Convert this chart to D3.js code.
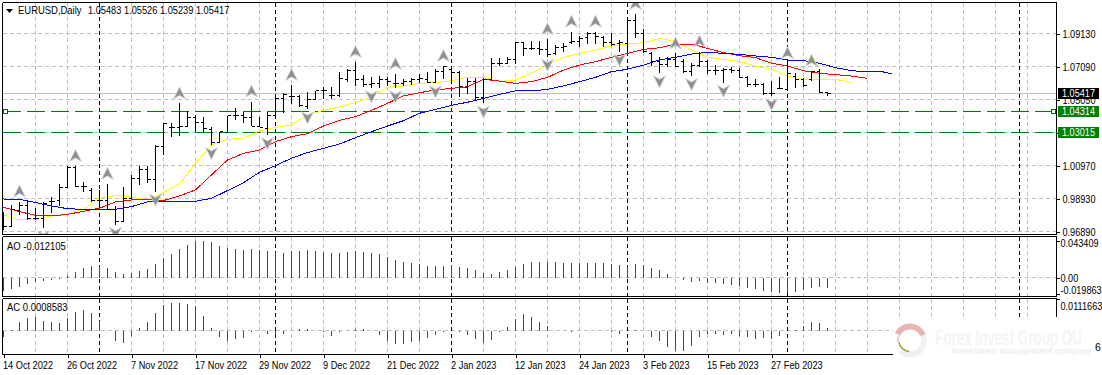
<!DOCTYPE html>
<html><head><meta charset="utf-8">
<script src="https://cdn.jsdelivr.net/npm/d3@7/dist/d3.min.js"></script>
<style>
html,body{margin:0;padding:0;background:#fff;overflow:hidden}
svg{display:block}
text{font-family:"Liberation Sans",Arial,sans-serif;font-size:10.5px;fill:#000}
</style></head><body><svg id="c" width="1102" height="375"></svg>
<script>
const symbolTitle="EURUSD,Daily";
const headerValues=["1.05483","1.05526","1.05239","1.05417"];
const opens=[.9730,.9719,.9818,.9847,.9771,.9771,.9874,.9878,.9960,1.0084,.9966,.9942,.9878,.9878,.9822,.9750,.9894,1.0018,1.0074,1.0012,1.0214,1.0333,1.0333,1.0341,1.0395,1.0362,1.0321,1.0238,1.0300,1.0403,1.0403,1.0395,1.0341,1.0327,1.0403,1.0512,1.0523,1.0523,1.0461,1.0506,1.0560,1.0529,1.0527,1.0626,1.0683,1.0626,1.0595,1.0601,1.0626,1.0605,1.0601,1.0615,1.0630,1.0626,1.0609,1.0677,1.0692,1.0671,1.0580,1.0615,1.0518,1.0630,1.0729,1.0729,1.0753,1.0856,1.0821,1.0821,1.0815,1.0790,1.0827,1.0856,1.0863,1.0889,1.0914,1.0889,1.0856,1.0852,1.0852,1.0992,1.0914,1.0790,1.0739,1.0724,1.0753,1.0739,1.0677,1.0718,1.0739,1.0687,1.0683,1.0692,1.0683,1.0642,1.0599,1.0595,1.0543,1.0574,1.0568,1.0650,1.0626,1.0626,1.0677,1.05483];
const highs=[.9812,.9853,.9874,.9884,.9833,.9874,.9900,.9983,1.0094,1.0094,.9997,.9956,.9946,.9983,.9847,.9966,1.0039,1.0094,1.0094,1.0224,1.0362,1.0358,1.0481,1.0436,1.0409,1.0399,1.0337,1.0306,1.0403,1.0451,1.0430,1.0492,1.0395,1.0430,1.0539,1.0543,1.0595,1.0533,1.0554,1.0560,1.0580,1.0580,1.0677,1.0692,1.0737,1.0657,1.0642,1.0650,1.0642,1.0663,1.0630,1.0636,1.0663,1.0677,1.0692,1.0712,1.0698,1.0683,1.0636,1.0636,1.0636,1.0760,1.0760,1.0770,1.0863,1.0863,1.0869,1.0869,1.0877,1.0842,1.0856,1.0924,1.0898,1.0924,1.0924,1.0898,1.0914,1.0873,1.0996,1.1033,1.0939,1.0801,1.0766,1.0766,1.0790,1.0753,1.0733,1.0801,1.0749,1.0718,1.0698,1.0708,1.0698,1.0650,1.0630,1.0609,1.0619,1.0642,1.0729,1.0671,1.0636,1.0683,1.0692,1.05526];
const lows=[.9699,.9719,.9791,.9760,.9760,.9709,.9806,.9847,.9956,.9966,.9936,.9874,.9843,.9822,.9730,.9750,.9894,.9977,.9987,.9936,1.0162,1.0271,1.0282,1.0333,1.0306,1.0306,1.0224,1.0238,1.0300,1.0378,1.0362,1.0341,1.0333,1.0286,1.0389,1.0424,1.0477,1.0461,1.0444,1.0502,1.0506,1.0506,1.0523,1.0615,1.0589,1.0584,1.0574,1.0574,1.0589,1.0574,1.0589,1.0595,1.0605,1.0605,1.0605,1.0630,1.0605,1.0518,1.0539,1.0502,1.0481,1.0626,1.0712,1.0724,1.0724,1.0774,1.0811,1.0780,1.0770,1.0780,1.0801,1.0848,1.0832,1.0848,1.0848,1.0832,1.0836,1.0801,1.0801,1.0883,1.0790,1.0712,1.0667,1.0708,1.0708,1.0667,1.0650,1.0708,1.0663,1.0657,1.0609,1.0667,1.0636,1.0584,1.0580,1.0533,1.0527,1.0568,1.0560,1.0574,1.0584,1.0621,1.0543,1.05239];
const closes=[.9719,.9826,.9847,.9771,.9771,.9863,.9874,.9960,1.0084,.9966,.9966,.9878,.9878,.9826,.9750,.9894,1.0018,1.0074,1.0012,1.0214,1.0354,1.0333,1.0341,1.0395,1.0362,1.0327,1.0238,1.0306,1.0403,1.0403,1.0395,1.0341,1.0333,1.0409,1.0512,1.0537,1.0523,1.0467,1.0506,1.0560,1.0560,1.0529,1.0632,1.0683,1.0626,1.0595,1.0605,1.0630,1.0615,1.0605,1.0615,1.0630,1.0636,1.0609,1.0677,1.0708,1.0671,1.0584,1.0615,1.0518,1.0630,1.0729,1.0729,1.0753,1.0856,1.0821,1.0821,1.0815,1.0786,1.0827,1.0832,1.0863,1.0883,1.0914,1.0893,1.0856,1.0848,1.0856,1.0992,1.0914,1.0801,1.0739,1.0724,1.0753,1.0712,1.0677,1.0718,1.0739,1.0687,1.0683,1.0692,1.0683,1.0642,1.0599,1.0595,1.0543,1.0543,1.0574,1.0667,1.0630,1.0589,1.0677,1.0547,1.05417];
// moving averages read every second bar
const blueLine=[.9890,.9888,.9868,.9847,.9830,.9826,.9826,.9826,.9843,.9872,.9876,.9872,.9876,.9894,.9942,.9991,1.0055,1.0096,1.0142,1.0177,1.0203,1.0230,1.0269,1.0306,1.0341,1.0374,1.0420,1.0444,1.0469,1.0488,1.0512,1.0537,1.0558,1.0558,1.0568,1.0589,1.0615,1.0642,1.0677,1.0692,1.0718,1.0749,1.0766,1.0786,1.0797,1.0790,1.0784,1.0774,1.0766,1.0749,1.0745,1.0729,1.0702,1.0683,1.0677,1.0675,1.0663];
const redLine=[.9839,.9812,.9789,.9785,.9795,.9814,.9833,.9872,.9884,.9888,.9880,.9909,.9946,1.0039,1.0131,1.0172,1.0193,1.0245,1.0275,1.0294,1.0341,1.0376,1.0399,1.0438,1.0481,1.0527,1.0547,1.0564,1.0574,1.0584,1.0630,1.0619,1.0605,1.0615,1.0642,1.0687,1.0718,1.0739,1.0766,1.0790,1.0815,1.0825,1.0848,1.0848,1.0821,1.0795,1.0776,1.0764,1.0729,1.0712,1.0683,1.0667,1.0659,1.0650,1.0636];
const yellowLine=[.9791,.9760,.9765,.9785,.9797,.9826,.9894,.9913,.9900,.9884,.9929,.9983,1.0111,1.0224,1.0259,1.0265,1.0310,1.0333,1.0348,1.0409,1.0438,1.0459,1.0486,1.0523,1.0580,1.0589,1.0605,1.0609,1.0621,1.0642,1.0642,1.0615,1.0626,1.0667,1.0718,1.0766,1.0790,1.0811,1.0836,1.0848,1.0856,1.0883,1.0863,1.0811,1.0766,1.0753,1.0739,1.0712,1.0692,1.0650,1.0630,1.0626,1.0630,1.0609];
const aoValues=[-.0160,-.0140,-.0112,-.0080,-.0056,-.0040,-.0024,-.0016,.0016,.0064,.0112,.0136,.0144,.0112,.0064,.0040,.0052,.0076,.0104,.0160,.0232,.0280,.0340,.0388,.0436,.0440,.0424,.0376,.0352,.0348,.0336,.0340,.0336,.0316,.0304,.0300,.0316,.0320,.0328,.0316,.0304,.0292,.0296,.0304,.0316,.0304,.0300,.0280,.0244,.0208,.0184,.0172,.0160,.0140,.0136,.0140,.0148,.0128,.0116,.0092,.0056,.0044,.0068,.0092,.0128,.0164,.0184,.0188,.0192,.0188,.0180,.0176,.0172,.0176,.0180,.0176,.0164,.0152,.0144,.0164,.0152,.0116,.0092,.0044,0,-.0032,-.0056,-.0040,-.0064,-.0068,-.0080,-.0084,-.0104,-.0128,-.0140,-.0164,-.0176,-.0188,-.0186,-.0176,-.0152,-.0128,-.0116,-.012105];
const acValues=[-.0024,.0001,.0030,.0044,.0049,.0034,.0030,.0026,.0044,.0066,.0073,.0062,.0036,0,-.0037,-.0044,-.0020,.0008,.0030,.0062,.0091,.0098,.0099,.0095,.0088,.0052,.0008,-.0023,-.0037,-.0030,-.0026,-.0004,-.0002,-.0012,-.0017,-.0012,0,.0004,.0006,0,-.0005,-.0019,-.0007,-.0001,.0007,.0004,0,-.0016,-.0037,-.0048,-.0047,-.0041,-.0036,-.0026,-.0017,-.0006,0,-.0004,-.0016,-.0030,-.0046,-.0034,-.0004,.0014,.0041,.0059,.0048,.0030,.0016,-.0001,-.0002,-.0004,-.0002,-.0001,-.00005,-.0001,-.0004,-.0012,-.0001,.0001,0,-.0023,-.0037,-.0060,-.0074,-.0073,-.0055,-.0023,-.0012,-.0011,-.0016,-.0012,-.0019,-.0023,-.0030,-.0026,-.0030,-.0019,-.0001,.0001,.0016,.0030,.0026,.0008583];
const fractalUp=[2,9,13,22,31,36,44,49,55,68,71,74,79,84,87,98,101];
const fractalDown=[5,14,19,26,33,38,46,49,54,60,68,77,82,86,90,96];
const separators=[12,34,56,78,98,127];
const dateLabels=["14 Oct 2022","26 Oct 2022","7 Nov 2022","17 Nov 2022","29 Nov 2022","9 Dec 2022","21 Dec 2022","2 Jan 2023","12 Jan 2023","24 Jan 2023","3 Feb 2023","15 Feb 2023","27 Feb 2023"];
const priceTicks=[1.0913,1.0709,1.0505,1.0301,1.0097,.9893,.9689];
const bidPrice=1.05417, hLine1=1.04314, hLine2=1.03015;

const W=1056.5,L=2.5;
const svg=d3.select("#c");
const x=d3.scaleLinear().domain([0,1]).range([3.5,11.5]);
const y=d3.scaleLinear().domain([.9689,1.0913]).range([231.5,33.5]);
const yAO=d3.scaleLinear().domain([0,.0432]).range([277.5,241.5]);
const yAC=d3.scaleLinear().domain([0,.0108]).range([330.5,300.5]);
const GRID="#c0c0c0";
const FS="10.5px";
const squeeze=(sel,f)=>sel.each(function(){const n=this.getComputedTextLength();this.setAttribute("textLength",n*f);this.setAttribute("lengthAdjust","spacingAndGlyphs");});
const defs=svg.append("defs");
const clip=(id,x0,y0,w,h)=>defs.append("clipPath").attr("id",id).append("rect").attr("x",x0).attr("y",y0).attr("width",w).attr("height",h);
clip("cm",3,3,1053,231);
clip("ca",3,237,1053,59);
clip("cc",3,299,1053,55);
const crisp=s=>s.attr("shape-rendering","crispEdges");
const hl=(g,y0,c,dash,x0=L,x1=W)=>crisp(g.append("line").attr("x1",x0).attr("x2",x1).attr("y1",y0).attr("y2",y0).attr("stroke",c).attr("stroke-dasharray",dash||null));
const panels=[{top:2.5,bot:234.5,cp:"cm"},{top:236.5,bot:296.5,cp:"ca"},{top:298.5,bot:354.5,cp:"cc"}];
const gridIdx=d3.range(4,129,4);

panels.forEach(p=>{
  const g=svg.append("g").attr("clip-path",`url(#${p.cp})`);
  p.g=g;
  gridIdx.forEach(i=>{crisp(g.append("line").attr("x1",x(i)).attr("x2",x(i)).attr("y1",p.top).attr("y2",p.bot).attr("stroke",GRID).attr("stroke-dasharray","4,3"));});
});
const gm=panels[0].g, ga=panels[1].g, gc=panels[2].g;
priceTicks.forEach(t=>hl(gm,y(t),GRID,"4,3"));
hl(ga,yAO(0),GRID,"4,3");
hl(gc,yAC(0),GRID,"4,3");
panels.forEach(p=>separators.forEach(i=>{crisp(p.g.append("line").attr("x1",x(i)).attr("x2",x(i)).attr("y1",p.top).attr("y2",p.bot).attr("stroke","#000").attr("stroke-dasharray","4,3"));}));

const snap=v=>Math.floor(v)+.5;
hl(gm,snap(y(bidPrice)),"#c0c0c0");
hl(gm,snap(y(hLine1)),"#007a00","18,6",3);
hl(gm,snap(y(hLine2)),"#008000","18,6",3);

// moving averages
const lineGen=d3.line().x((d,i)=>x(i*2)).y(d=>y(d));
const maLine=(data,color,pts)=>gm.append("path").datum(data).attr("fill","none").attr("stroke",color).attr("stroke-width",1).attr("shape-rendering","crispEdges").attr("d",pts);
maLine(yellowLine,"#ffff00",lineGen(yellowLine));
maLine(redLine,"#ff0000",lineGen(redLine));
const blueGen=d3.line().x((d,i)=>x(i===blueLine.length-1?111:i*2)).y(d=>y(d));
maLine(blueLine,"#0000ff",blueGen(blueLine));

// OHLC bars
opens.forEach((o,i)=>{
  const b=gm.append("g").attr("stroke","#000").attr("shape-rendering","crispEdges");
  const X=x(i);
  b.append("line").attr("x1",X).attr("x2",X).attr("y1",y(highs[i])).attr("y2",y(lows[i]));
  b.append("line").attr("x1",X-3).attr("x2",X).attr("y1",snap(y(o))).attr("y2",snap(y(o)));
  b.append("line").attr("x1",X).attr("x2",X+3.5).attr("y1",snap(y(closes[i]))).attr("y2",snap(y(closes[i])));
});

// fractal arrows
const UP="M0,-6.5L6,5.5L0,2L-6,5.5Z", DOWN="M-6,-5.5L0,-2L6,-5.5L0,6.5Z";
const arrow=(path,i,py,off)=>gm.append("path").attr("d",path).attr("transform",`translate(${x(i)},${y(py)+off})`)
  .attr("fill","#8f8f8f").attr("stroke","#ced6e0").attr("stroke-width",.9);
fractalUp.forEach(i=>arrow(UP,i,highs[i],-10));
fractalDown.forEach(i=>arrow(DOWN,i,lows[i],8));

// oscillators
const hist=(g,vals,sc)=>vals.forEach((v,i)=>{
  if(Math.abs(v)<1e-9) return;
  const up=i===0||v>=vals[i-1];
  crisp(g.append("line").attr("x1",x(i)).attr("x2",x(i)).attr("y1",sc(0)).attr("y2",sc(v)).attr("stroke",up?"#008000":"#f00000"));
});
hist(ga,aoValues,yAO);
hist(gc,acValues,yAC);

// frames
[2.5,234.5,236.5,296.5,298.5].forEach(r=>hl(svg,r,"#000"));
hl(svg,354.5,"#000");
[[2.5,234.5],[236.5,296.5],[298.5,354.5]].forEach(r=>{
  crisp(svg.append("line").attr("x1",L).attr("x2",L).attr("y1",r[0]).attr("y2",r[1]).attr("stroke","#000"));
  crisp(svg.append("line").attr("x1",W).attr("x2",W).attr("y1",r[0]).attr("y2",r[1]).attr("stroke","#000"));
});

// axes
const price5=d3.format(".5f");
const axR=svg.append("g").attr("transform",`translate(${W},0)`).call(d3.axisRight(y).tickValues(priceTicks).tickSize(3).tickPadding(3).tickFormat(price5));
axR.select(".domain").remove();
axR.selectAll("line").attr("stroke","#000").attr("shape-rendering","crispEdges");
axR.selectAll("text").attr("dy",".34em").style("font-size",FS).style("font-family",'"Liberation Sans"').call(squeeze,.87);
const aoTicks=[[.043409,"0.043409",2],[0,"0.00",0],[-.019863,"-0.019863",-4.5]];
const axA=svg.append("g").attr("transform",`translate(${W},0)`).call(d3.axisRight(yAO).tickValues(aoTicks.map(d=>d[0])).tickSize(3).tickPadding(1).tickFormat((d,i)=>aoTicks[i][1]));
axA.select(".domain").remove();
axA.selectAll("line").attr("stroke","#000").attr("shape-rendering","crispEdges");
axA.selectAll("text").attr("dy",(d,i)=>(aoTicks[i][2]+3.6)+"px").style("font-size",FS).style("font-family",'"Liberation Sans"').call(squeeze,.87);
const acTicks=[[.0111663,"0.0111663",6]];
const axC=svg.append("g").attr("transform",`translate(${W},0)`).call(d3.axisRight(yAC).tickValues(acTicks.map(d=>d[0])).tickSize(3).tickPadding(1).tickFormat((d,i)=>acTicks[i][1]));
axC.select(".domain").remove();
axC.selectAll("line").attr("stroke","#000").attr("shape-rendering","crispEdges");
axC.selectAll("text").attr("dy",(d,i)=>(acTicks[i][2]+3.6)+"px").style("font-size",FS).style("font-family",'"Liberation Sans"').call(squeeze,.87);

const dateIdx=dateLabels.map((d,i)=>i*8);
const axB=svg.append("g").attr("transform","translate(0,354.5)").call(d3.axisBottom(x).tickValues(dateIdx).tickSize(3).tickPadding(4).tickFormat((d,i)=>dateLabels[i]));
axB.select(".domain").remove();
axB.selectAll("line").attr("stroke","#000").attr("shape-rendering","crispEdges");
axB.selectAll("text").attr("text-anchor","start").attr("x",-1).style("font-size",FS).style("font-family",'"Liberation Sans"').call(squeeze,.875);

// price tags
const tag=(p,bg,label)=>{
  const c=Math.floor(y(p))+.5;
  svg.append("rect").attr("x",1058).attr("y",c-5.5).attr("width",41).attr("height",11).attr("fill",bg);
  svg.append("text").attr("x",1062).attr("y",c+3.5).style("fill","#fff").text(label).call(squeeze,.87);
};
tag(bidPrice,"#000","1.05417");
tag(hLine1,"#008000","1.04314");
tag(hLine2,"#008000","1.03015");

// anchors of the horizontal line
[5,1053].forEach(px=>svg.append("rect").attr("x",px-2).attr("y",snap(y(hLine1))-2).attr("width",4).attr("height",4).attr("fill","#fff").attr("stroke","#006400").attr("shape-rendering","crispEdges"));

// header
svg.append("path").attr("d","M6,9L13,9L9.5,13Z").attr("fill","#000");
svg.append("text").attr("x",18).attr("y",14).text(symbolTitle).call(squeeze,.9);
svg.append("text").attr("x",88).attr("y",14).text(headerValues.join(" ")).call(squeeze,.88);
svg.append("text").attr("x",7).attr("y",249.5).text("AO -0.012105").call(squeeze,.9);
svg.append("text").attr("x",7).attr("y",311).text("AC 0.0008583").call(squeeze,.9);

// watermark block
svg.append("rect").attr("x",893).attr("y",317).attr("width",209).attr("height",58).attr("fill","#fff");
const arc=d3.arc().innerRadius(11).outerRadius(17);
const lg=svg.append("g").attr("transform","translate(910,340.5)");
lg.append("path").attr("d",arc({startAngle:-1.1,endAngle:1.2})).attr("fill","#e8b4b4");
lg.append("path").attr("d",arc({startAngle:1.2,endAngle:3.9})).attr("fill","#f2f0f0");
lg.append("path").attr("d",d3.arc().innerRadius(10.5)({outerRadius:11.8,startAngle:3.2,endAngle:4.6})).attr("fill","#8a9a20");
lg.append("path").attr("d",d3.arc().innerRadius(11).outerRadius(13.5)({startAngle:-1.7,endAngle:-1.1})).attr("fill","#f0d4d4");
svg.append("text").attr("x",935).attr("y",345).attr("textLength",147).attr("lengthAdjust","spacingAndGlyphs").style("font-size","22px").style("font-weight","bold").style("fill","#f4f4f4").text("Forex Invest Group OU");
svg.append("text").attr("x",952).attr("y",354).attr("textLength",140).attr("lengthAdjust","spacingAndGlyphs").style("font-size","8.5px").style("font-weight","bold").style("fill","#eeeeee").text("Investment management company");
svg.append("text").attr("x",1095).attr("y",351).text("6");
</script></body></html>
